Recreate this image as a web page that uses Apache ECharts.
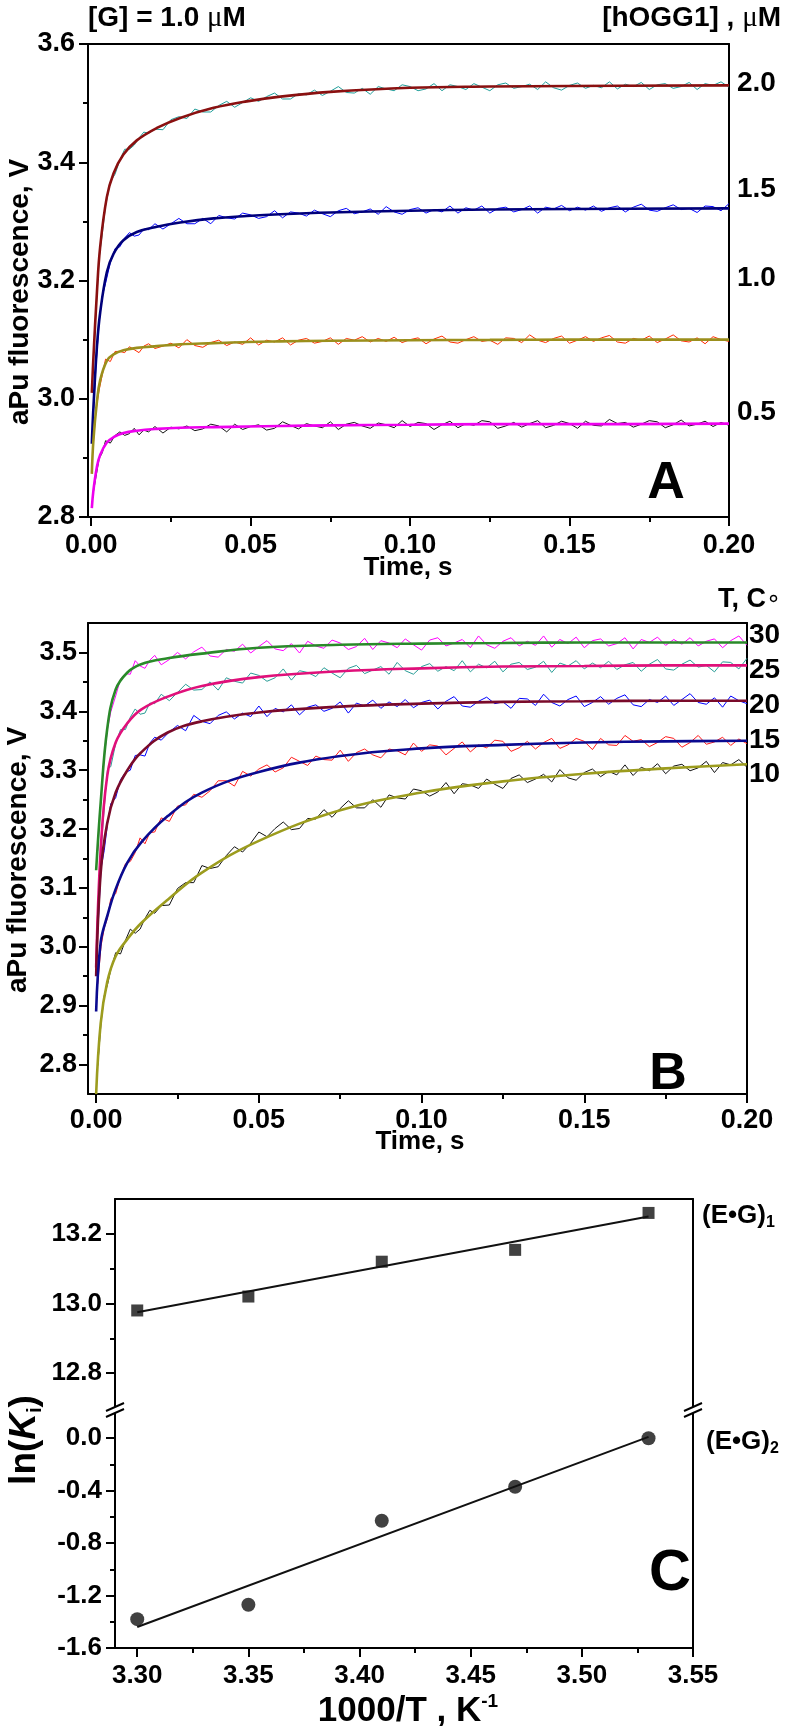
<!DOCTYPE html>
<html><head><meta charset="utf-8">
<script src="https://cdn.jsdelivr.net/npm/echarts@6/dist/echarts.min.js"></script>
<style>html,body{margin:0;padding:0;background:#fff}#c{width:786px;height:1726px}</style>
</head><body><div id="c"></div><script>
// ---------- shared time grid of the recorded traces (s) ----------
const timeData = [0.0005,0.0015,0.0025,0.0035,0.0045,0.006,0.0075,0.009,0.0105,0.012,0.0135,0.015,0.0165,0.018,0.02,
0.0225,0.025,0.0275,0.03,0.0325,0.035,0.0375,0.04,0.0425,0.045,0.0475,0.05,0.0525,0.055,0.0575,0.06,0.0625,0.065,
0.0675,0.07,0.0725,0.075,0.0775,0.08,0.0825,0.085,0.0875,0.09,0.0925,0.095,0.0975,0.1,0.1025,0.105,0.1075,0.11,
0.1125,0.115,0.1175,0.12,0.1225,0.125,0.1275,0.13,0.1325,0.135,0.1375,0.14,0.1425,0.145,0.1475,0.15,0.1525,0.155,
0.1575,0.16,0.1625,0.165,0.1675,0.17,0.1725,0.175,0.1775,0.18,0.1825,0.185,0.1875,0.19,0.1925,0.195,0.1975,0.2];

// ---------- Panel A: [hOGG1] series (aPu fluorescence, V) ----------
const a20Data = [3.049,3.148,3.238,3.280,3.326,3.367,3.380,3.404,3.422,3.422,3.429,3.441,3.451,3.449,3.456,
3.455,3.472,3.477,3.474,3.490,3.485,3.485,3.496,3.503,3.493,3.501,3.509,3.503,3.511,3.517,3.507,3.507,3.516,
3.514,3.522,3.513,3.520,3.528,3.518,3.517,3.525,3.515,3.528,3.524,3.521,3.531,3.528,3.521,3.524,3.533,3.521,
3.531,3.528,3.523,3.533,3.527,3.521,3.531,3.534,3.525,3.528,3.532,3.523,3.536,3.526,3.522,3.530,3.534,3.525,
3.530,3.526,3.536,3.524,3.532,3.528,3.535,3.523,3.531,3.533,3.525,3.528,3.535,3.523,3.533,3.530,3.536,3.527];
const a15Data = [2.960,3.055,3.130,3.174,3.195,3.230,3.254,3.257,3.272,3.281,3.275,3.277,3.287,3.286,3.296,
3.287,3.296,3.305,3.296,3.296,3.305,3.296,3.310,3.306,3.304,3.314,3.311,3.305,3.308,3.318,3.306,3.316,3.314,
3.309,3.319,3.313,3.308,3.318,3.322,3.313,3.316,3.321,3.312,3.325,3.316,3.312,3.320,3.323,3.314,3.320,3.316,
3.326,3.314,3.323,3.319,3.326,3.314,3.322,3.324,3.316,3.320,3.326,3.314,3.324,3.321,3.327,3.318,3.324,3.319,
3.326,3.317,3.323,3.326,3.316,3.324,3.329,3.319,3.317,3.323,3.328,3.320,3.322,3.315,3.326,3.325,3.318,3.330];
const a10Data = [2.913,2.980,3.015,3.041,3.067,3.063,3.080,3.080,3.078,3.088,3.083,3.078,3.089,3.093,3.085,
3.089,3.094,3.086,3.100,3.090,3.087,3.095,3.099,3.090,3.096,3.092,3.103,3.091,3.099,3.096,3.103,3.091,3.099,
3.102,3.094,3.097,3.103,3.092,3.102,3.099,3.105,3.096,3.102,3.097,3.104,3.095,3.100,3.103,3.093,3.101,3.106,
3.096,3.094,3.100,3.105,3.097,3.099,3.092,3.103,3.102,3.095,3.108,3.099,3.095,3.102,3.106,3.094,3.099,3.105,
3.097,3.103,3.107,3.096,3.094,3.102,3.099,3.106,3.095,3.101,3.108,3.098,3.096,3.103,3.093,3.105,3.100,3.097];
const a05Data = [2.836,2.868,2.899,2.909,2.929,2.925,2.938,2.944,2.938,2.941,2.950,2.939,2.947,2.944,2.953,
2.942,2.952,2.949,2.954,2.946,2.949,2.957,2.954,2.944,2.957,2.948,2.953,2.956,2.947,2.950,2.961,2.955,2.949,
2.958,2.954,2.951,2.961,2.948,2.957,2.960,2.954,2.950,2.959,2.956,2.951,2.963,2.953,2.960,2.958,2.948,2.956,
2.962,2.951,2.958,2.955,2.963,2.961,2.950,2.954,2.960,2.952,2.958,2.963,2.951,2.955,2.962,2.958,2.950,2.962,
2.955,2.954,2.965,2.958,2.960,2.952,2.957,2.963,2.961,2.951,2.956,2.964,2.954,2.957,2.962,2.953,2.960,2.955];
const tFitA = [0.0002,0.0007,0.0018,0.0028,0.0049,0.007,0.0101,0.0143,0.0206,0.0279,0.0384,0.0488,0.0593,0.075,0.1,0.125,0.15,0.2];
const a20Fit = [3.010,3.070,3.180,3.256,3.341,3.381,3.413,3.437,3.458,3.475,3.492,3.503,3.511,3.519,3.526,3.528,3.529,3.530];
const a15Fit = [2.924,2.985,3.088,3.145,3.214,3.245,3.268,3.282,3.291,3.298,3.305,3.309,3.312,3.315,3.318,3.320,3.321,3.322];
const a10Fit = [2.873,2.930,2.995,3.031,3.064,3.075,3.082,3.086,3.089,3.092,3.094,3.096,3.097,3.098,3.099,3.0995,3.100,3.100];
const a05Fit = [2.815,2.845,2.885,2.905,2.926,2.935,2.942,2.946,2.949,2.951,2.952,2.953,2.954,2.955,2.956,2.957,2.957,2.958];
const aLabels = ['2.0','1.5','1.0','0.5'];

// ---------- Panel B: temperature series ----------
const b30Data = [3.163,3.253,3.322,3.370,3.399,3.426,3.455,3.464,3.463,3.486,3.477,3.473,3.487,3.495,3.479,
3.488,3.500,3.489,3.501,3.509,3.494,3.492,3.505,3.502,3.514,3.499,3.510,3.520,3.506,3.503,3.515,3.499,3.519,
3.511,3.507,3.521,3.516,3.505,3.510,3.524,3.505,3.520,3.516,3.508,3.523,3.513,3.504,3.521,3.525,3.511,3.516,
3.522,3.508,3.528,3.513,3.507,3.519,3.525,3.511,3.519,3.512,3.528,3.509,3.522,3.515,3.526,3.508,3.520,3.523,
3.511,3.515,3.525,3.506,3.522,3.517,3.526,3.512,3.522,3.514,3.525,3.511,3.519,3.523,3.508,3.520,3.528,3.512];
const b25Data = [3.034,3.163,3.237,3.302,3.306,3.345,3.369,3.369,3.390,3.404,3.395,3.397,3.414,3.413,3.429,
3.418,3.432,3.446,3.436,3.437,3.450,3.436,3.457,3.451,3.448,3.465,3.461,3.451,3.457,3.472,3.453,3.469,3.466,
3.459,3.474,3.465,3.457,3.473,3.478,3.464,3.470,3.476,3.463,3.483,3.469,3.463,3.476,3.481,3.468,3.476,3.469,
3.486,3.467,3.480,3.474,3.485,3.467,3.480,3.483,3.471,3.475,3.485,3.466,3.482,3.477,3.486,3.472,3.482,3.474,
3.485,3.471,3.479,3.483,3.468,3.480,3.488,3.472,3.470,3.480,3.487,3.475,3.478,3.467,3.484,3.483,3.472,3.490];
const b20Data = [3.022,3.133,3.164,3.209,3.243,3.253,3.284,3.296,3.300,3.325,3.326,3.324,3.346,3.356,3.351,
3.365,3.376,3.367,3.393,3.383,3.379,3.393,3.399,3.387,3.397,3.391,3.409,3.391,3.405,3.399,3.411,3.394,3.407,
3.411,3.400,3.405,3.416,3.397,3.414,3.409,3.419,3.405,3.416,3.408,3.420,3.406,3.415,3.419,3.404,3.417,3.425,
3.409,3.407,3.417,3.424,3.413,3.416,3.405,3.422,3.421,3.410,3.429,3.415,3.409,3.420,3.426,3.408,3.415,3.425,
3.412,3.422,3.428,3.411,3.408,3.420,3.415,3.426,3.410,3.420,3.430,3.415,3.412,3.423,3.407,3.426,3.418,3.413];
const b15Data = [2.937,3.001,3.032,3.049,3.082,3.090,3.119,3.141,3.145,3.160,3.185,3.175,3.194,3.195,3.219,
3.213,3.239,3.241,3.259,3.254,3.265,3.282,3.282,3.273,3.298,3.290,3.302,3.309,3.297,3.304,3.322,3.315,3.308,
3.324,3.318,3.317,3.334,3.315,3.330,3.336,3.326,3.321,3.336,3.333,3.326,3.346,3.332,3.343,3.341,3.326,3.337,
3.348,3.331,3.343,3.338,3.351,3.349,3.332,3.338,3.349,3.336,3.347,3.354,3.337,3.343,3.354,3.349,3.335,3.354,
3.343,3.342,3.359,3.349,3.352,3.340,3.347,3.357,3.354,3.339,3.347,3.359,3.344,3.348,3.356,3.342,3.353,3.345];
const b10Data = [2.798,2.871,2.917,2.936,2.961,2.990,2.988,3.011,3.030,3.023,3.030,3.048,3.062,3.057,3.070,
3.071,3.099,3.109,3.109,3.138,3.133,3.136,3.155,3.170,3.161,3.176,3.195,3.187,3.201,3.212,3.199,3.201,3.218,
3.217,3.233,3.220,3.235,3.248,3.236,3.236,3.250,3.237,3.258,3.253,3.251,3.268,3.265,3.256,3.263,3.279,3.260,
3.277,3.275,3.269,3.285,3.276,3.269,3.286,3.292,3.279,3.285,3.293,3.280,3.301,3.287,3.283,3.296,3.302,3.289,
3.298,3.292,3.309,3.291,3.305,3.299,3.311,3.294,3.307,3.310,3.299,3.304,3.315,3.296,3.313,3.309,3.318,3.305];
const tFitB = [0,0.0014,0.0034,0.006,0.0096,0.0138,0.022,0.0325,0.05,0.075,0.1,0.125,0.15,0.175,0.2];
const b30Fit = [3.130,3.245,3.370,3.437,3.466,3.480,3.490,3.498,3.508,3.513,3.515,3.516,3.517,3.517,3.517];
const b25Fit = [2.965,3.165,3.290,3.347,3.380,3.403,3.425,3.443,3.458,3.468,3.473,3.476,3.477,3.478,3.478];
const b20Fit = [2.950,3.126,3.210,3.262,3.300,3.330,3.364,3.383,3.398,3.408,3.413,3.416,3.417,3.418,3.418];
const b15Fit = [2.890,3.008,3.052,3.098,3.143,3.177,3.222,3.262,3.297,3.324,3.337,3.343,3.347,3.349,3.350];
const b10Fit = [2.750,2.870,2.940,2.984,3.013,3.040,3.080,3.126,3.180,3.232,3.262,3.281,3.294,3.303,3.310];
const bLabels = ['30','25','20','15','10'];

// ---------- Panel C: van't Hoff plot ----------
const invT = [3.30,3.35,3.41,3.47,3.53];
const lnK1 = [12.98,13.02,13.12,13.154,13.26];
const lnK2 = [-1.38,-1.27,-0.63,-0.37,0.0];
const fitX = [3.30,3.53];
const fit1Y = [12.975,13.25];
const fit2Y = [-1.44,0.01];

// ---------- tick values ----------
const timeTicks = [0,0.05,0.1,0.15,0.2];
const timeMinor = [0.025,0.075,0.125,0.175];
const bYTicks = [2.8,2.9,3.0,3.1,3.2,3.3,3.4,3.5];
const bYMinor = [2.85,2.95,3.05,3.15,3.25,3.35,3.45];
const cXTicks = [3.30,3.35,3.40,3.45,3.50,3.55];
const cXMinor = [3.325,3.375,3.425,3.475,3.525];
const cUTicks = [12.8,13.0,13.2];
const cUMinor = [12.9,13.1];
const cLTicks = [-1.6,-1.2,-0.8,-0.4,0.0];
const cLMinor = [-1.4,-1.0,-0.6,-0.2];

// ================= build =================
const FF = "'Liberation Sans', Arial, sans-serif";
const lab = s => ({fontFamily: FF, fontWeight: 'bold', fontSize: s, color: '#000'});
const pairs = (xs, ys) => xs.map((x, i) => [x, ys[i]]);
const BL = {color: '#000', width: 2};

function mainAxis(gi, min, max, pos, ticks, dec, size, margin) {
  return {type: 'value', gridIndex: gi, min, max, position: pos,
    axisLine: {show: true, onZero: false, lineStyle: BL},
    axisTick: {show: true, customValues: ticks, length: 9, lineStyle: BL},
    axisLabel: {show: true, customValues: ticks, margin, formatter: v => v.toFixed(dec), ...lab(size)},
    splitLine: {show: false}};
}
function minorAxis(gi, min, max, pos, ticks) {
  return {type: 'value', gridIndex: gi, min, max, position: pos,
    axisLine: {show: false, onZero: false},
    axisTick: {show: true, customValues: ticks, length: 5, lineStyle: BL},
    axisLabel: {show: false}, splitLine: {show: false}};
}
function borderAxis(gi, min, max, pos) {
  return {type: 'value', gridIndex: gi, min, max, position: pos,
    axisLine: {show: true, onZero: false, lineStyle: BL},
    axisTick: {show: false}, axisLabel: {show: false}, splitLine: {show: false}};
}

const xAxis = [
  mainAxis(0, -0.001, 0.2, 'bottom', timeTicks, 2, 27, 15),   // 0
  minorAxis(0, -0.001, 0.2, 'bottom', timeMinor),             // 1
  borderAxis(0, -0.001, 0.2, 'top'),                          // 2
  mainAxis(1, -0.0025, 0.2, 'bottom', timeTicks, 2, 27, 13),  // 3
  minorAxis(1, -0.0025, 0.2, 'bottom', timeMinor),            // 4
  borderAxis(1, -0.0025, 0.2, 'top'),                         // 5
  borderAxis(2, 3.29, 3.55, 'top'),                           // 6
  mainAxis(3, 3.29, 3.55, 'bottom', cXTicks, 2, 26, 15),      // 7
  minorAxis(3, 3.29, 3.55, 'bottom', cXMinor)                 // 8
];
const aY = {type: 'value', gridIndex: 0, min: 2.8, max: 3.6, interval: 0.2, position: 'left',
  axisLine: {show: true, onZero: false, lineStyle: BL},
  axisTick: {show: true, length: 9, lineStyle: BL},
  minorTick: {show: true, splitNumber: 2, length: 5, lineStyle: BL},
  axisLabel: {margin: 13, formatter: v => v.toFixed(1), ...lab(27)},
  splitLine: {show: false}, minorSplitLine: {show: false}};
const yAxis = [
  aY,                                                          // 0
  borderAxis(0, 2.8, 3.6, 'right'),                            // 1
  mainAxis(1, 2.75, 3.55, 'left', bYTicks, 1, 27, 11),         // 2
  minorAxis(1, 2.75, 3.55, 'left', bYMinor),                   // 3
  borderAxis(1, 2.75, 3.55, 'right'),                          // 4
  mainAxis(2, 12.7, 13.3, 'left', cUTicks, 1, 26, 13),         // 5
  minorAxis(2, 12.7, 13.3, 'left', cUMinor),                   // 6
  borderAxis(2, 12.7, 13.3, 'right'),                          // 7
  mainAxis(3, -1.6, 0.2, 'left', cLTicks, 1, 26, 13),          // 8
  minorAxis(3, -1.6, 0.2, 'left', cLMinor),                    // 9
  borderAxis(3, -1.6, 0.2, 'right')                            // 10
];

function dataLine(xs, ys, color, xi, yi) {
  return {type: 'line', xAxisIndex: xi, yAxisIndex: yi, data: pairs(xs, ys), symbol: 'none', showSymbol: false,
    lineStyle: {color, width: 1}, itemStyle: {color}, silent: true, z: 2};
}
function fitLine(xs, ys, color, xi, yi) {
  return {type: 'line', xAxisIndex: xi, yAxisIndex: yi, data: pairs(xs, ys), symbol: 'none', showSymbol: false,
    smooth: 0.4, lineStyle: {color, width: 2.6}, itemStyle: {color}, silent: true, z: 3};
}

const series = [
  dataLine(timeData, a20Data, '#1f9e9a', 0, 0),
  dataLine(timeData, a15Data, '#0000ff', 0, 0),
  dataLine(timeData, a10Data, '#ff2a00', 0, 0),
  dataLine(timeData, a05Data, '#111111', 0, 0),
  fitLine(tFitA, a20Fit, '#8a1010', 0, 0),
  fitLine(tFitA, a15Fit, '#00007a', 0, 0),
  fitLine(tFitA, a10Fit, '#9b8f1c', 0, 0),
  fitLine(tFitA, a05Fit, '#ee00ee', 0, 0),

  dataLine(timeData, b30Data, '#ff00ff', 3, 2),
  dataLine(timeData, b25Data, '#2a9d97', 3, 2),
  dataLine(timeData, b20Data, '#0000ff', 3, 2),
  dataLine(timeData, b15Data, '#ff1a1a', 3, 2),
  dataLine(timeData, b10Data, '#111111', 3, 2),
  fitLine(tFitB, b30Fit, '#2a8a2a', 3, 2),
  fitLine(tFitB, b25Fit, '#e0107a', 3, 2),
  fitLine(tFitB, b20Fit, '#7a0a2a', 3, 2),
  fitLine(tFitB, b15Fit, '#0a0a90', 3, 2),
  fitLine(tFitB, b10Fit, '#9c9c1e', 3, 2),

  {type: 'line', xAxisIndex: 6, yAxisIndex: 5, data: pairs(fitX, fit1Y), symbol: 'none',
    lineStyle: {color: '#111', width: 2}, silent: true},
  {type: 'scatter', xAxisIndex: 6, yAxisIndex: 5, data: pairs(invT, lnK1), symbol: 'rect', symbolSize: 12,
    itemStyle: {color: '#111'}, silent: true},
  {type: 'line', xAxisIndex: 7, yAxisIndex: 8, data: pairs(fitX, fit2Y), symbol: 'none',
    lineStyle: {color: '#111', width: 2}, silent: true},
  {type: 'scatter', xAxisIndex: 7, yAxisIndex: 8, data: pairs(invT, lnK2), symbol: 'circle', symbolSize: 14,
    itemStyle: {color: '#111'}, silent: true}
];

function txt(x, y, text, size, align, extra) {
  return Object.assign({type: 'text', x, y, silent: true, z: 100,
    style: {text, fill: '#000', fontFamily: FF, fontWeight: 'bold', fontSize: size,
      align: align || 'left', verticalAlign: 'middle', textAlign: align || 'left', textVerticalAlign: 'middle'}}, extra || {});
}
function richTxt(x, y, text, size, align, rich, extra) {
  const t = txt(x, y, text, size, align, extra);
  t.style.rich = rich;
  return t;
}
const muRich = {mu: {fontFamily: "'Liberation Serif', serif", fontWeight: 'normal', fontSize: 29, fill: '#000'}};
const subRich = {
  m: {fontFamily: FF, fontWeight: 'bold', fontSize: 26, fill: '#000', lineHeight: 30},
  s: {fontFamily: FF, fontWeight: 'bold', fontSize: 16, fill: '#000', verticalAlign: 'bottom', lineHeight: 30}};

const aLabelY = [83, 189, 278, 412];
const bLabelY = [635, 670, 705, 740, 774];

const graphic = [
  richTxt(88, 18, '[G] = 1.0 {mu|μ}M', 28, 'left', muRich),
  richTxt(781, 18, '[hOGG1] , {mu|μ}M', 28, 'right', muRich),
  ...aLabels.map((s, i) => txt(737, aLabelY[i], s, 28, 'left')),
  txt(666, 484, 'A', 52, 'center'),
  txt(20, 292, 'aPu fluorescence, V', 28, 'center', {rotation: Math.PI / 2}),
  txt(408, 568, 'Time, s', 26, 'center'),

  richTxt(781, 600, 'T, C{d|∘}', 27, 'right', {d: {fontFamily: "'DejaVu Sans', sans-serif", fontSize: 24, fontWeight: 'normal', fill: '#000'}}),
  ...bLabels.map((s, i) => txt(749, bLabelY[i], s, 28, 'left')),
  txt(668, 1075, 'B', 52, 'center'),
  txt(18, 860, 'aPu fluorescence, V', 28, 'center', {rotation: Math.PI / 2}),
  txt(420, 1142, 'Time, s', 26, 'center'),

  richTxt(25, 1440, '{n|ln(}{k|K}{s|i}{n|)}', 36, 'center', {
    n: {fontFamily: FF, fontWeight: 'bold', fontSize: 37, fill: '#000', lineHeight: 40},
    k: {fontFamily: FF, fontWeight: 'bold', fontStyle: 'italic', fontSize: 37, fill: '#000', lineHeight: 40},
    s: {fontFamily: FF, fontWeight: 'bold', fontSize: 20, fill: '#000', verticalAlign: 'bottom', lineHeight: 40}
  }, {rotation: Math.PI / 2}),
  richTxt(702, 1216, '{m|(E•G)}{s|1}', 26, 'left', subRich),
  richTxt(706, 1442, '{m|(E•G)}{s|2}', 26, 'left', subRich),
  txt(670, 1574, 'C', 58, 'center'),
  richTxt(408, 1711, '{m|1000/T , K}{p|-1}', 35, 'center', {
    m: {fontFamily: FF, fontWeight: 'bold', fontSize: 35, fill: '#000', lineHeight: 38},
    p: {fontFamily: FF, fontWeight: 'bold', fontSize: 19, fill: '#000', verticalAlign: 'top', lineHeight: 38}})
];
// axis-break marks on the left and right axes of panel C
[115, 693].forEach(x => {
  const y0 = 1410;
  graphic.push({type: 'polygon', silent: true, z: 90, shape: {points: [[x - 9, y0 + 1], [x + 9, y0 - 7], [x + 9, y0 - 1], [x - 9, y0 + 7]]}, style: {fill: '#fff'}});
  graphic.push({type: 'line', silent: true, z: 91, shape: {x1: x - 9, y1: y0 + 1, x2: x + 9, y2: y0 - 7}, style: {stroke: '#000', lineWidth: 2}});
  graphic.push({type: 'line', silent: true, z: 91, shape: {x1: x - 9, y1: y0 + 7, x2: x + 9, y2: y0 - 1}, style: {stroke: '#000', lineWidth: 2}});
});

const chart = echarts.init(document.getElementById('c'), null, {renderer: 'canvas', width: 786, height: 1726});
chart.setOption({
  animation: false,
  backgroundColor: '#ffffff',
  grid: [
    {left: 88, top: 44, width: 641, height: 473},
    {left: 88, top: 623, width: 659, height: 471},
    {left: 115, top: 1199, width: 578, height: 209},
    {left: 115, top: 1412, width: 578, height: 236}
  ],
  xAxis, yAxis, series, graphic
});
</script></body></html>
